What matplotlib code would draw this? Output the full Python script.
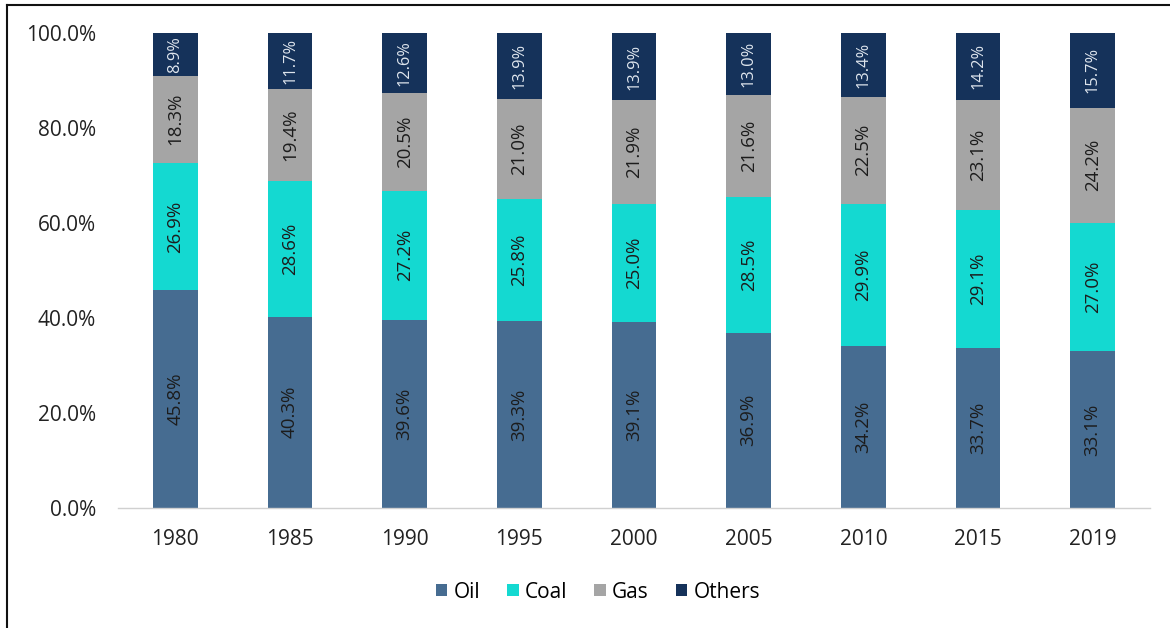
import matplotlib.pyplot as plt
from matplotlib.lines import Line2D
from matplotlib.patches import Patch

years = ["1980", "1985", "1990", "1995", "2000", "2005", "2010", "2015", "2019"]
oil = [45.8, 40.3, 39.6, 39.3, 39.1, 36.9, 34.2, 33.7, 33.1]
coal = [26.9, 28.6, 27.2, 25.8, 25.0, 28.5, 29.9, 29.1, 27.0]
gas = [18.3, 19.4, 20.5, 21.0, 21.9, 21.6, 22.5, 23.1, 24.2]
others = [8.9, 11.7, 12.6, 13.9, 13.9, 13.0, 13.4, 14.2, 15.7]

# name, values, fill colour, label colour, label size
series = [
    ("Oil", oil, "#466c91", "#1c1c1c", 13.5),
    ("Coal", coal, "#14d9d1", "#1c1c1c", 13.5),
    ("Gas", gas, "#a5a5a5", "#1c1c1c", 13.5),
    ("Others", others, "#15325a", "#dfe6ee", 11.8),
]

plt.rcParams["font.family"] = ["Open Sans", "DejaVu Sans"]

fig = plt.figure(figsize=(11.7, 6.28), dpi=100)
ax = fig.add_axes([118 / 1170, 1 - 508 / 628, (1150 - 118) / 1170, (508 - 33) / 628])

x = list(range(len(years)))
bottom = [0.0] * len(years)
width = 0.39
for name, vals, color, tcolor, tsize in series:
    ax.bar(x, vals, width, bottom=bottom, color=color, label=name, zorder=2)
    for i, v in enumerate(vals):
        ax.text(x[i], bottom[i] + v / 2, f"{v:.1f}%", rotation=90,
                ha="center", va="center", fontsize=tsize, color=tcolor, zorder=3)
    bottom = [b + v for b, v in zip(bottom, vals)]

ax.set_xlim(-0.5, len(years) - 0.5)
ax.set_ylim(0, 100)
ax.set_yticks([0, 20, 40, 60, 80, 100])
ax.set_yticklabels([f"{t:.1f}%" for t in [0, 20, 40, 60, 80, 100]])
ax.set_xticks(x)
ax.set_xticklabels(years)
ax.tick_params(axis="both", length=0, labelsize=15, colors="#222222")
ax.tick_params(axis="y", pad=16)
ax.tick_params(axis="x", pad=15)
for s in ["top", "right", "left"]:
    ax.spines[s].set_visible(False)
ax.spines["bottom"].set_color("#d0d0d0")
ax.spines["bottom"].set_linewidth(1.0)

handles = [Patch(facecolor=s[2], edgecolor="none") for s in series]
fig.legend(handles, [s[0] for s in series], loc="center",
           bbox_to_anchor=(598 / 1170, 1 - 592 / 628), ncol=4, frameon=False,
           fontsize=15, handlelength=0.55, handleheight=0.55,
           handletextpad=0.3, columnspacing=1.3)

# thin frame along the top and left edges
fig.add_artist(Line2D([7 / 1170, 7 / 1170], [0, 1 - 5 / 628], color="#111111", lw=1.5))
fig.add_artist(Line2D([7 / 1170, 1], [1 - 5 / 628, 1 - 5 / 628], color="#111111", lw=1.5))

fig.savefig("out.png", dpi=100, facecolor="white")
